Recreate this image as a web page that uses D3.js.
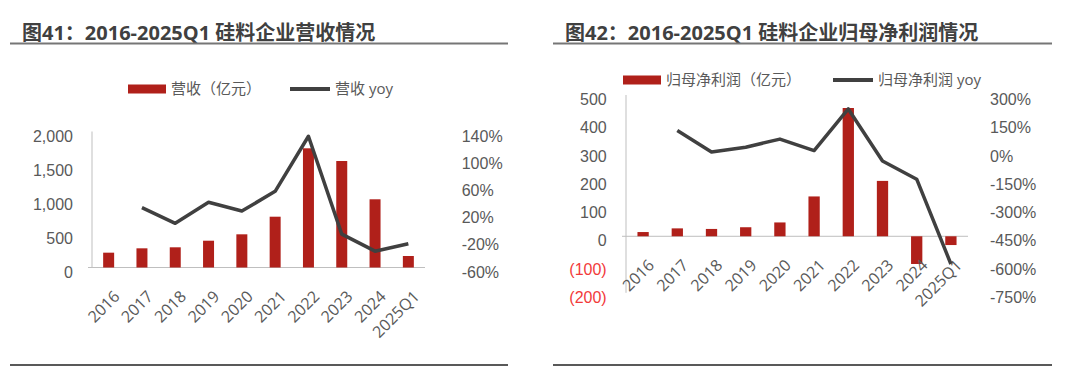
<!DOCTYPE html>
<html>
<head>
<meta charset="utf-8">
<script src="https://cdn.jsdelivr.net/npm/d3@7/dist/d3.min.js"></script>
<style>
  html, body { margin: 0; padding: 0; background: #fff; }
  svg { display: block; font-family: "Open Sans", "Noto Sans CJK SC", sans-serif; }
</style>
</head>
<body>
<svg id="chart" width="1080" height="368"></svg>
<script>
// ---- data ----
const categories = ['2016','2017','2018','2019','2020','2021','2022','2023','2024','2025Q1'];
const revenue = [218, 282, 297, 394, 488, 747, 1753, 1566, 1003, 169];
const revenueYoy = [null, 28, 5, 36, 23, 52, 133, -11, -36, -25];
const profit = [15, 28, 26, 32, 49, 141, 454, 196, -98, -31];
const profitYoy = [null, 112, -3, 23, 66, 5, 226, -50, -147, -597];
const revTicks = [0, 500, 1000, 1500, 2000];
const revYoyTicks = [-60, -20, 20, 60, 100, 140];
const profitTicks = [-200, -100, 0, 100, 200, 300, 400, 500];
const profitYoyTicks = [-750, -600, -450, -300, -150, 0, 150, 300];
const titles = ['图41：2016-2025Q1 硅料企业营收情况', '图42：2016-2025Q1 硅料企业归母净利润情况'];
const legendLeft = ['营收（亿元）', '营收 yoy'];
const legendRight = ['归母净利润（亿元）', '归母净利润 yoy'];

const RED = '#b0201a', LINE = '#404040', TXT = '#595959', AX = '#bfbfbf';
const svg = d3.select('#chart');
svg.append('rect').attr('width', 1080).attr('height', 368).attr('fill', '#fff');

function frame(x0, x1, tx, title) {
  svg.append('text').attr('x', tx).attr('y', 40).attr('font-size', 20).attr('font-weight', 'bold')
    .attr('fill', '#404040').text(title);
  svg.append('line').attr('x1', x0).attr('x2', x1).attr('y1', 43.5).attr('y2', 43.5)
    .attr('stroke', '#767676').attr('stroke-width', 2);
  svg.append('line').attr('x1', x0).attr('x2', x1).attr('y1', 365).attr('y2', 365)
    .attr('stroke', '#595959').attr('stroke-width', 2);
}

function legend(rx, lx, ly, labels) {
  svg.append('rect').attr('x', rx).attr('y', ly - 4.5).attr('width', 38).attr('height', 9).attr('fill', RED);
  svg.append('text').attr('x', rx + 43).attr('y', ly).attr('dy', '0.35em').attr('font-size', 15)
    .attr('fill', TXT).text(labels[0]);
  svg.append('line').attr('x1', lx).attr('x2', lx + 40).attr('y1', ly).attr('y2', ly)
    .attr('stroke', LINE).attr('stroke-width', 4);
  svg.append('text').attr('x', lx + 45).attr('y', ly).attr('dy', '0.35em').attr('font-size', 15)
    .attr('fill', TXT).text(labels[1]);
}

function chart(opt) {
  const x = d3.scaleBand().domain(categories).range([opt.xl, opt.xr]).paddingInner(0.67).paddingOuter(0.335);
  const y = d3.scaleLinear().domain(opt.yDom).range([opt.yb, opt.yt]);
  const y2 = d3.scaleLinear().domain(opt.y2Dom).range([opt.yb, opt.yt]);
  const zeroY = y(0);

  // axis lines
  svg.append('line').attr('x1', opt.xl).attr('x2', opt.xl).attr('y1', opt.yt).attr('y2', opt.yb)
    .attr('stroke', AX).attr('stroke-width', 1);
  svg.append('line').attr('x1', opt.xl - 4).attr('x2', opt.xr).attr('y1', zeroY).attr('y2', zeroY)
    .attr('stroke', AX).attr('stroke-width', 1);

  // left axis labels
  const la = svg.append('g').attr('transform', `translate(${opt.labL},4.5)`)
    .call(d3.axisLeft(y).tickValues(opt.yTicks).tickSize(0).tickPadding(0).tickFormat(opt.fmtL));
  la.select('.domain').remove();
  la.selectAll('text').attr('font-size', 16).attr('font-family', null)
    .attr('fill', d => d < 0 ? '#f23a3a' : TXT);

  const ra = svg.append('g').attr('transform', `translate(${opt.labR},4.5)`)
    .call(d3.axisRight(y2).tickValues(opt.y2Ticks).tickSize(0).tickPadding(0).tickFormat(d => d + '%'));
  ra.select('.domain').remove();
  ra.selectAll('text').attr('font-size', 16).attr('font-family', null).attr('fill', TXT);

  // bars
  svg.append('g').selectAll('rect').data(opt.bars).join('rect')
    .attr('x', (d, i) => x(categories[i]))
    .attr('width', x.bandwidth())
    .attr('y', d => Math.min(y(d), zeroY))
    .attr('height', d => Math.abs(y(d) - zeroY))
    .attr('fill', RED);

  // x labels
  svg.append('g').selectAll('text').data(categories).join('text')
    .attr('transform', d => `translate(${x(d) + x.bandwidth() / 2 + 12},${zeroY + 30}) rotate(-45)`)
    .attr('text-anchor', 'end').attr('font-size', 16).attr('fill', TXT).text(d => d);

  // line
  const line = d3.line()
    .defined(d => d != null)
    .x((d, i) => x(categories[i]) + x.bandwidth() / 2)
    .y(d => y2(d));
  svg.append('path').datum(opt.yoy).attr('d', line).attr('fill', 'none')
    .attr('stroke', LINE).attr('stroke-width', 3.5).attr('stroke-linejoin', 'round');
}

frame(10, 508, 22, titles[0]);
frame(553, 1052, 565, titles[1]);
legend(128, 290, 89, legendLeft);
legend(623, 833, 80, legendRight);

chart({
  xl: 92, xr: 425, yt: 131.5, yb: 267.5,
  yDom: [0, 2000], y2Dom: [-60, 140],
  yTicks: revTicks, y2Ticks: revYoyTicks,
  fmtL: d3.format(','), labL: 73, labR: 461.7,
  bars: revenue, yoy: revenueYoy
});

chart({
  xl: 626, xr: 968, yt: 95, yb: 292.8,
  yDom: [-200, 500], y2Dom: [-750, 300],
  yTicks: profitTicks, y2Ticks: profitYoyTicks,
  fmtL: d => d < 0 ? `(${-d})` : `${d}`, labL: 606.7, labR: 990,
  bars: profit, yoy: profitYoy
});
</script>
</body>
</html>
